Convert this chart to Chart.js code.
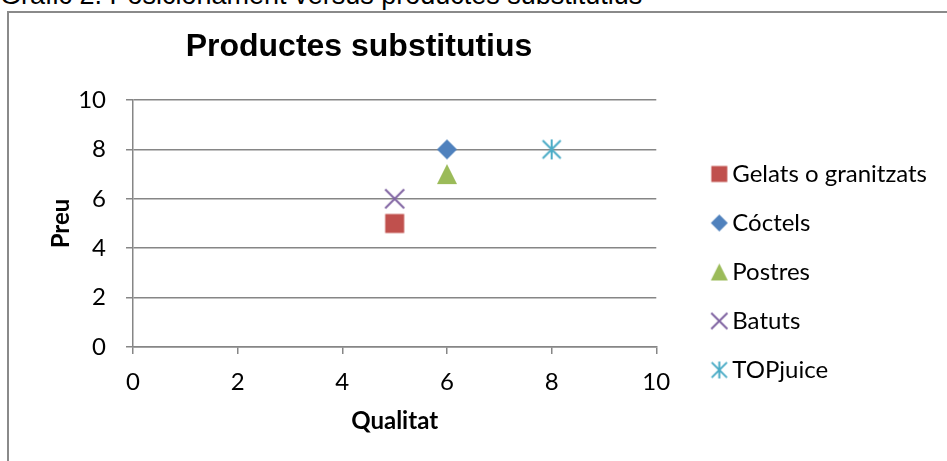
<!DOCTYPE html>
<html>
<head>
<meta charset="utf-8">
<script src="https://cdn.jsdelivr.net/npm/chart.js@4/dist/chart.umd.min.js"></script>
<style>
  html, body { margin: 0; padding: 0; background: #fff; }
  body { width: 947px; height: 461px; overflow: hidden; position: relative; }
  #caption {
    position: absolute; left: 0; top: -18px;
    font: 27px/27px "Liberation Sans", Arial, sans-serif; color: #000; white-space: nowrap;
  }
  #frame {
    position: absolute; left: 7px; top: 11px; width: 1000px; height: 500px;
    border-left: 2px solid #8a8a8a; border-top: 2px solid #8a8a8a;
  }
  #wrap { position: absolute; left: 0; top: 0; width: 947px; height: 461px; }
</style>
</head>
<body>
<div id="caption">Gràfic 2. Posicionament versus productes substitutius</div>
<div id="frame"></div>
<div id="wrap"><canvas id="c" width="947" height="461"></canvas></div>
<script>
// Series: one product per series, positioned by quality (x) and price (y)
const seriesNames = ['Gelats o granitzats', 'Cóctels', 'Postres', 'Batuts', 'TOPjuice'];
const qualitat = [5, 6, 6, 5, 8];
const preu = [5, 8, 7, 6, 8];
const seriesColors = ['#C0504D', '#4F81BD', '#9BBB59', '#8064A2', '#4BACC6'];
const markerShapes = ['square', 'diamond', 'triangle', 'x', 'star'];

// Axis range and tick step (both axes)
const axisMin = 0;
const axisMax = 10;
const axisStep = 2;

const chartTitle = 'Productes substitutius';
const xTitle = 'Qualitat';
const yTitle = 'Preu';

const labelFont = 'Lato, "Open Sans", sans-serif';
const gridColor = '#868686';

// Marker images drawn on small canvases
function makeMarker(shape, color, size) {
  const pad = 2;
  const c = document.createElement('canvas');
  c.width = size + pad * 2;
  c.height = size + pad * 2;
  const g = c.getContext('2d');
  const m = c.width / 2;
  const h = size / 2;
  g.fillStyle = color;
  g.strokeStyle = color;
  g.lineWidth = 2;
  g.beginPath();
  if (shape === 'square') {
    g.rect(m - h + 0.5, m - h + 0.5, size - 1, size - 1);
    g.fill();
  } else if (shape === 'diamond') {
    g.moveTo(m, m - h); g.lineTo(m + h, m); g.lineTo(m, m + h); g.lineTo(m - h, m);
    g.closePath(); g.fill();
  } else if (shape === 'triangle') {
    g.moveTo(m, m - h); g.lineTo(m + h, m + h); g.lineTo(m - h, m + h);
    g.closePath(); g.fill();
  } else if (shape === 'x') {
    const r = h * 0.95;
    g.moveTo(m - r, m - r); g.lineTo(m + r, m + r);
    g.moveTo(m + r, m - r); g.lineTo(m - r, m + r);
    g.stroke();
  } else if (shape === 'star') {
    const r = h * 0.9;
    g.moveTo(m - r, m - r); g.lineTo(m + r, m + r);
    g.moveTo(m + r, m - r); g.lineTo(m - r, m + r);
    g.moveTo(m, m - h); g.lineTo(m, m + h);
    g.stroke();
  }
  return c;
}

const plotMarkers = markerShapes.map((s, i) => makeMarker(s, seriesColors[i], 20));
const legendMarkers = markerShapes.map((s, i) => makeMarker(s, seriesColors[i], 17));

const datasets = seriesNames.map((name, i) => ({
  label: name,
  data: [{ x: qualitat[i], y: preu[i] }],
  pointStyle: plotMarkers[i],
  pointRadius: 10,
  pointHoverRadius: 10,
  backgroundColor: seriesColors[i],
  borderColor: seriesColors[i]
}));

// Chart heading drawn above the plot
const headingPlugin = {
  id: 'heading',
  afterDraw(chart) {
    const ctx = chart.ctx;
    ctx.save();
    ctx.font = 'bold 32px "Liberation Sans", Arial, sans-serif';
    ctx.fillStyle = '#000';
    ctx.textAlign = 'center';
    ctx.textBaseline = 'middle';
    ctx.fillText(chartTitle, 359, 47);
    ctx.restore();
  }
};

const targetRight = 656;

const chart = new Chart(document.getElementById('c'), {
  type: 'scatter',
  data: { datasets },
  plugins: [headingPlugin],
  options: {
    responsive: false,
    animation: false,
    devicePixelRatio: 1,
    layout: { padding: { left: 0, top: 100, right: 10, bottom: 17 } },
    scales: {
      x: {
        type: 'linear',
        position: 'bottom',
        min: axisMin, max: axisMax,
        ticks: { stepSize: axisStep, padding: 14, color: '#000', font: { family: labelFont, size: 24 } },
        grid: { drawOnChartArea: false, drawTicks: true, tickLength: 7, color: gridColor, lineWidth: 1.5 },
        border: { display: true, color: gridColor, width: 1.5 },
        title: { display: true, text: xTitle, color: '#000', padding: { top: 0, bottom: 8 },
                 font: { family: labelFont, size: 24, weight: 'bold' } },
        afterFit(scale) { scale.height = 97; }
      },
      y: {
        type: 'linear',
        position: 'left',
        min: axisMin, max: axisMax,
        ticks: { stepSize: axisStep, padding: 20, color: '#000', font: { family: labelFont, size: 24 } },
        grid: { drawOnChartArea: true, drawTicks: true, tickLength: 7, color: gridColor, lineWidth: 1.5 },
        border: { display: true, color: gridColor, width: 1.5 },
        title: { display: true, text: yTitle, color: '#000', padding: { top: 47, bottom: 0 },
                 font: { family: labelFont, size: 24, weight: 'bold' } },
        afterFit(scale) { scale.width = 133; }
      },
      gap: {
        axis: 'y',
        type: 'linear',
        position: 'right',
        display: true,
        ticks: { display: false },
        grid: { display: false },
        border: { display: false },
        afterFit(scale) { scale.width = 37; }
      }
    },
    plugins: {
      title: { display: false },
      tooltip: { enabled: false },
      legend: {
        position: 'right',
        align: 'center',
        maxWidth: 320,
        labels: {
          usePointStyle: true,
          boxWidth: 2,
          padding: 25,
          color: '#000',
          font: { family: labelFont, size: 24 },
          generateLabels: () => seriesNames.map((name, i) => ({
            text: name,
            pointStyle: legendMarkers[i],
            fillStyle: seriesColors[i],
            strokeStyle: seriesColors[i],
            lineWidth: 0,
            hidden: false,
            datasetIndex: i
          }))
        }
      }
    }
  }
});

// Keep the plot's right edge fixed whatever the legend width turns out to be
const dx = chart.chartArea.right - targetRight;
if (Math.abs(dx) > 0.5) {
  chart.options.layout.padding.right += dx;
  chart.update('none');
}
</script>
</body>
</html>
